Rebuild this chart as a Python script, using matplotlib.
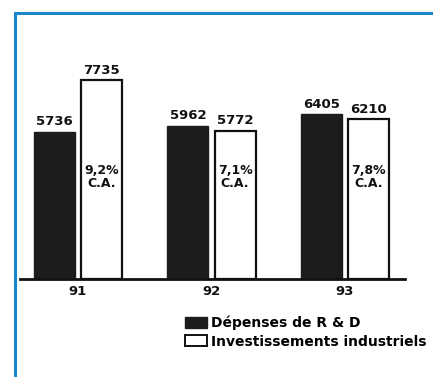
import matplotlib
matplotlib.use("Agg")
import matplotlib.pyplot as plt
from matplotlib.patches import Patch
from matplotlib.lines import Line2D

# values in millions
years = ["91", "92", "93"]
rd_spend = [5736, 5962, 6405]
invest = [7735, 5772, 6210]
share_ca = ["9,2%", "7,1%", "7,8%"]

plt.rcParams["font.family"] = "DejaVu Sans"
plt.rcParams["font.weight"] = "bold"

W, H = 433, 377
fig = plt.figure(figsize=(W / 100, H / 100), dpi=100)

# axes placed so the baseline sits at y=279 px, x range 20..405 px
ax = fig.add_axes([20 / W, (H - 279) / H, 385 / W, 257 / H])
ax.set_ylim(0, 10000)
ax.set_xlim(-0.434, 2.449)

x = list(range(len(years)))
width = 0.307
off = 0.176
ax.bar([i - off for i in x], rd_spend, width=width, color="#1c1c1c",
       edgecolor="#1c1c1c", linewidth=1)
ax.bar([i + off for i in x], invest, width=width, color="white",
       edgecolor="#111111", linewidth=1.6)

for i in x:
    ax.annotate(str(rd_spend[i]), (i - off, rd_spend[i]), xytext=(0, 2.5),
                textcoords="offset points", ha="center", va="bottom",
                fontsize=9.5, fontweight="bold", color="#111111")
    ax.annotate(str(invest[i]), (i + off, invest[i]), xytext=(0, 2.5),
                textcoords="offset points", ha="center", va="bottom",
                fontsize=9.5, fontweight="bold", color="#111111")
    ax.text(i + off, 3950, share_ca[i] + "\nC.A.", ha="center", va="center",
            fontsize=9, fontweight="bold", color="#111111", linespacing=1.0)

for s in ["top", "right", "left"]:
    ax.spines[s].set_visible(False)
ax.spines["bottom"].set_linewidth(2)
ax.spines["bottom"].set_color("#111111")
ax.set_yticks([])
ax.set_xticks(x)
ax.set_xticklabels(years, fontsize=9.5, fontweight="bold", color="#111111")
ax.tick_params(axis="x", length=0, pad=4)

handles = [Patch(facecolor="#1c1c1c", edgecolor="#1c1c1c"),
           Patch(facecolor="white", edgecolor="#111111", linewidth=1.4)]
labels = ["Dépenses de R & D", "Investissements industriels"]
fig.legend(handles, labels, loc="upper left",
           bbox_to_anchor=(185 / W, (H - 316) / H), frameon=False,
           handlelength=1.6, handleheight=0.85,
           handletextpad=0.3, labelspacing=0.3, borderpad=0,
           borderaxespad=0, prop={"weight": "bold", "size": 10})

# blue frame along the top and left
fig.add_artist(Line2D([14.5 / W, 1], [(H - 12.5) / H] * 2, color="#1b86c9",
                      linewidth=2.2, transform=fig.transFigure))
fig.add_artist(Line2D([14.5 / W] * 2, [0, (H - 12.5) / H], color="#1b86c9",
                      linewidth=2.2, transform=fig.transFigure))

fig.savefig("out.png", dpi=100)
